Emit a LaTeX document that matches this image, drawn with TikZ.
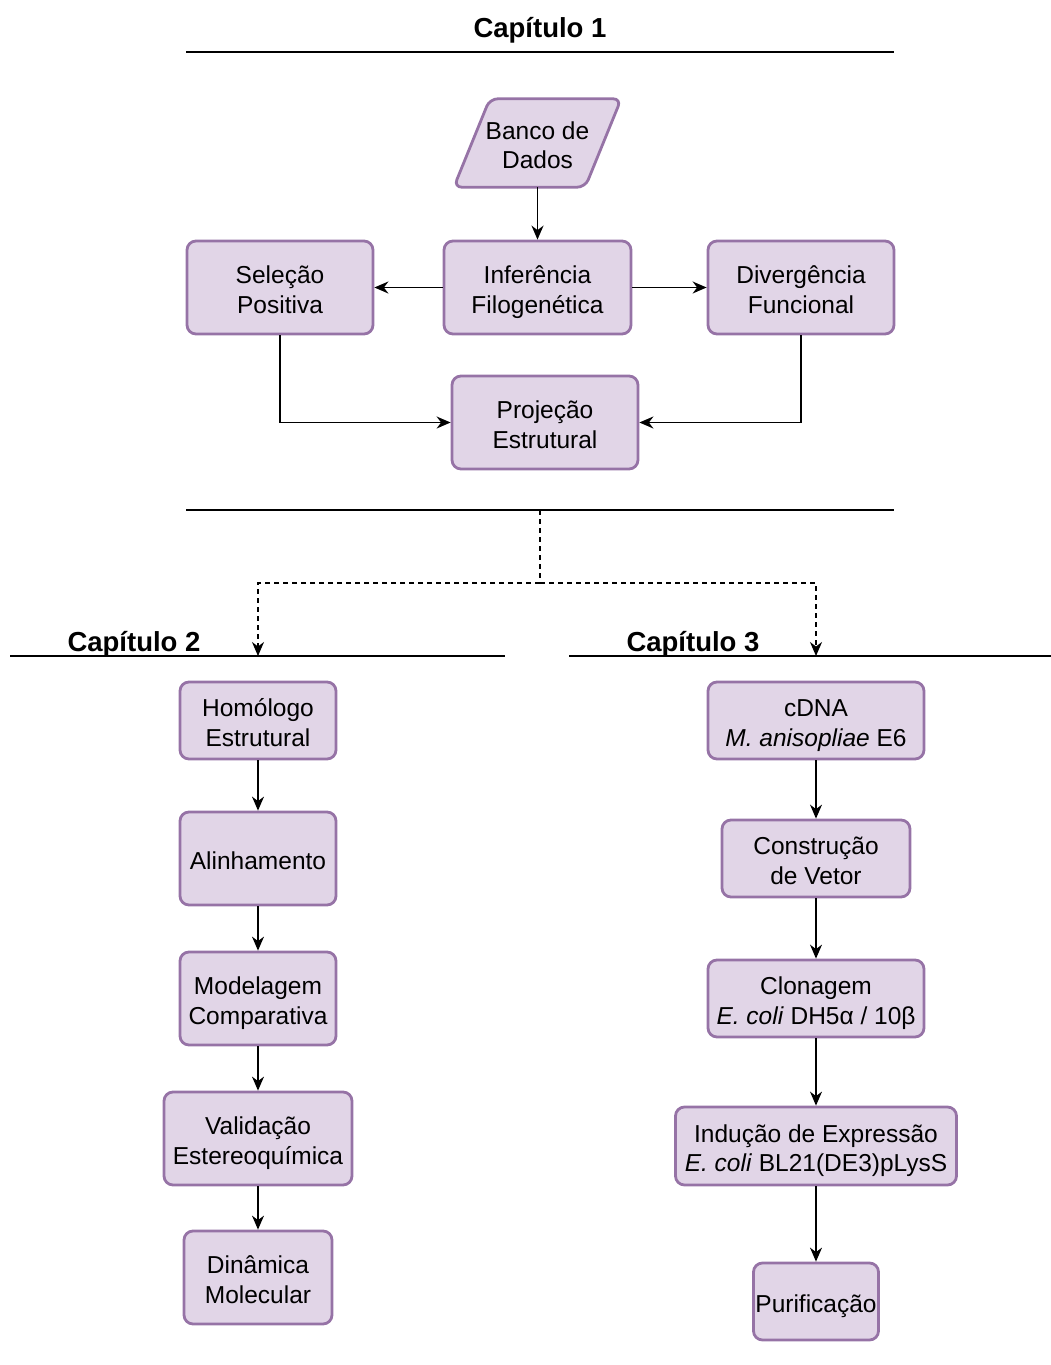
\documentclass[tikz,border=0pt]{standalone}
\usepackage{fontspec}
\setmainfont{Liberation Sans}
\usetikzlibrary{arrows.meta}
\newcommand\bt[1]{\begin{tabular}{@{}c@{}}\rule{0pt}{30.65pt}#1\end{tabular}}
\begin{document}
\begin{tikzpicture}[x=1pt,y=-1pt,
  fbox/.style={draw=boxline,fill=boxfill,line width=2.8pt,rounded corners=9pt,
    inner sep=0pt,align=center,text=black,font=\fontsize{24.5}{29.5}\selectfont},
  txt/.style={inner sep=0pt,align=center,text=black,font=\fontsize{24.5}{29.5}\selectfont},
  ttl/.style={inner sep=0pt,font=\fontsize{27.5}{33}\selectfont\bfseries},
  rule/.style={line width=1.4pt,black},
  tip/.style={-{Stealth[length=14pt,width=12pt,inset=4.5pt]}},
  arr/.style={line width=1.5pt,black,tip},
  dsh/.style={line width=1.5pt,black,dash pattern=on 5pt off 4pt}]
\definecolor{boxfill}{HTML}{E1D5E7}
\definecolor{boxline}{HTML}{9673A6}
\useasboundingbox (0,0) rectangle (1051,1365);

% Chapter 1
\node[ttl] (t1) at (540,30) {Capítulo 1};
\coordinate (r1a) at (186,52); \coordinate (r1b) at (894,52);
\draw[rule] (r1a) -- (r1b);

\node[txt,minimum width=131pt,minimum height=88pt] (db) at (537.5,143) {};
\draw[draw=boxline,fill=boxfill,line width=2.8pt,rounded corners=8pt]
  ([xshift=18pt]db.north west) -- ([xshift=18pt]db.north east)
  -- ([xshift=-18pt]db.south east) -- ([xshift=-18pt]db.south west) -- cycle;
\node[txt] at (db.center) {\bt{Banco de\\Dados}};

\node[fbox,minimum width=187pt,minimum height=93pt] (inf) at (537.5,287.5) {\bt{Inferência\\Filogenética}};
\node[fbox,minimum width=186pt,minimum height=93pt] (sel) at (280,287.5) {\bt{Seleção\\Positiva}};
\node[fbox,minimum width=186pt,minimum height=93pt] (div) at (801,287.5) {\bt{Divergência\\Funcional}};
\node[fbox,minimum width=186pt,minimum height=93pt] (proj) at (545,422.5) {\bt{Projeção\\Estrutural}};

\draw[arr] (db.south) -- (inf.north);
\draw[arr] (inf.west) -- (sel.east);
\draw[arr] (inf.east) -- (div.west);
\draw[arr] (sel.south) |- (proj.west);
\draw[arr] (div.south) |- (proj.east);

\coordinate (r2a) at (186,510); \coordinate (r2b) at (894,510);
\draw[rule] (r2a) -- (r2b);

% dashed split
\coordinate (dtop) at (540,510);
\coordinate (dsplit) at (540,583);
\coordinate (d2) at (258,656);
\coordinate (d3) at (816,656);
\draw[dsh] (dtop) -- (dsplit);
\draw[dsh,tip] (dsplit) -| (d2);
\draw[dsh,tip] (dsplit) -| (d3);

% Chapter 2
\node[ttl] (t2) at (134,644) {Capítulo 2};
\coordinate (r3a) at (10,656); \coordinate (r3b) at (505,656);
\draw[rule] (r3a) -- (r3b);

\node[fbox,minimum width=156pt,minimum height=77pt] (hom) at (258,720.5) {\bt{Homólogo\\Estrutural}};
\node[fbox,minimum width=156pt,minimum height=93pt] (ali) at (258,858.5) {\bt{Alinhamento}};
\node[fbox,minimum width=156pt,minimum height=93pt] (mod) at (258,998.5) {\bt{Modelagem\\Comparativa}};
\node[fbox,minimum width=188pt,minimum height=93pt] (val) at (258,1138.5) {\bt{Validação\\Estereoquímica}};
\node[fbox,minimum width=148pt,minimum height=93pt] (din) at (258,1277.5) {\bt{Dinâmica\\Molecular}};

\draw[arr] (hom.south) -- (ali.north);
\draw[arr] (ali.south) -- (mod.north);
\draw[arr] (mod.south) -- (val.north);
\draw[arr] (val.south) -- (din.north);

% Chapter 3
\node[ttl] (t3) at (693,644) {Capítulo 3};
\coordinate (r4a) at (569,656); \coordinate (r4b) at (1051,656);
\draw[rule] (r4a) -- (r4b);

\node[fbox,minimum width=216pt,minimum height=77pt] (cdna) at (816,720.5) {\bt{cDNA\\\textit{M. anisopliae} E6}};
\node[fbox,minimum width=188pt,minimum height=77pt] (vet) at (816,858.5) {\bt{Construção\\de Vetor}};
\node[fbox,minimum width=216pt,minimum height=77pt] (clo) at (816,998.5) {\bt{Clonagem\\\textit{E. coli} DH5α / 10β}};
\node[fbox,minimum width=281pt,minimum height=78pt] (ind) at (816,1146) {\bt{Indução de Expressão\\\textit{E. coli} BL21(DE3)pLysS}};
\node[fbox,minimum width=125pt,minimum height=77pt] (pur) at (816,1301.5) {\bt{Purificação}};

\draw[arr] (cdna.south) -- (vet.north);
\draw[arr] (vet.south) -- (clo.north);
\draw[arr] (clo.south) -- (ind.north);
\draw[arr] (ind.south) -- (pur.north);
\end{tikzpicture}
\end{document}
